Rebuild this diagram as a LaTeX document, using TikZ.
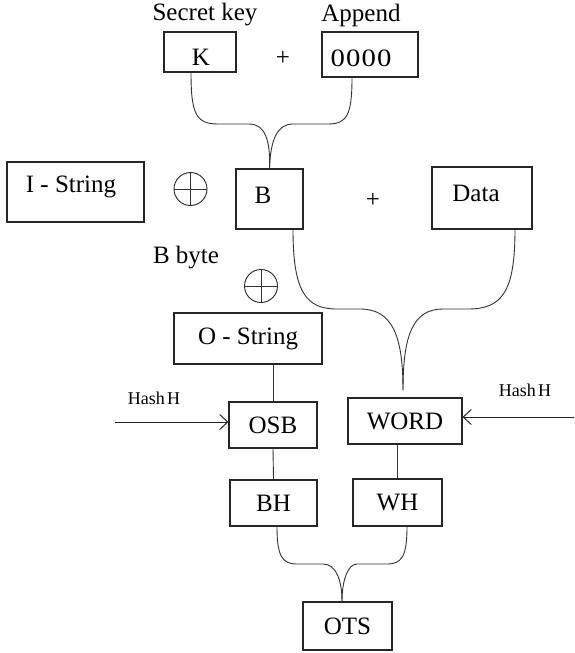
\documentclass[tikz,border=0pt]{standalone}
\usepackage{fontspec}
\setmainfont{Liberation Serif}
\usetikzlibrary{arrows.meta}
\tikzset{
  box/.style={draw=black!85, line width=1.1pt, inner sep=0pt, fill=white},
  txt/.style={inner sep=0pt, font=\fontsize{25}{29}\selectfont},
  small/.style={inner sep=0pt, font=\fontsize{18}{21}\selectfont},
  link/.style={draw=black!80, line width=0.9pt},
  harrow/.style={draw=black!85, line width=1pt, -{Straight Barb[length=8pt,width=15pt,line width=1pt]}},
  xorsym/.style={circle, draw=black!85, line width=0.9pt, minimum size=33pt, inner sep=0pt}
}
\begin{document}
\begin{tikzpicture}[x=1pt,y=-1pt]
\useasboundingbox[fill=white] (0,0) rectangle (574,653);

% top labels
\node[txt] (sk) at (205,15) {Secret key};
\node[txt] (ap) at (361,15) {Append};

% boxes
\node[box, minimum width=72pt, minimum height=40pt] (K) at (200,52) {};
\node[txt] (Kt) at (201,57) {K};
\node[box, minimum width=96pt, minimum height=45pt] (Z) at (370,54.5) {};
\node[txt, xscale=1.15] (Zt) at (361,58) {\addfontfeatures{LetterSpace=4}0000};
\node[txt] (p1) at (283,58) {+};

\node[box, minimum width=137pt, minimum height=60pt] (I) at (75.5,192) {};
\node[txt] (It) at (71,187) {I - String};
\node[xorsym] (x1) at (190.5,189) {};
\draw[link] (x1.north) -- (x1.south) (x1.west) -- (x1.east);

\node[box, minimum width=67pt, minimum height=60pt] (B) at (269.5,199) {};
\node[txt] (Bt) at (263,195) {B};
\node[txt] (p2) at (373,200) {+};
\node[box, minimum width=100pt, minimum height=62pt] (D) at (482,198) {};
\node[txt] (Dt) at (476,193) {Data};

\node[txt] (bb) at (186,258) {B byte};
\node[xorsym] (x2) at (261,286) {};
\draw[link] (x2.north) -- (x2.south) (x2.west) -- (x2.east);

\node[box, txt, minimum width=148pt, minimum height=51pt] (OS) at (248,338.5) {O - String};
\node[box, txt, minimum width=88pt, minimum height=46pt] (OSB) at (273,425) {OSB};
\node[box, txt, minimum width=114pt, minimum height=46pt] (W) at (405,421) {WORD};
\node[box, txt, minimum width=87pt, minimum height=46pt] (BH) at (273.5,503) {BH};
\node[box, txt, minimum width=89pt, minimum height=47pt] (WH) at (397.5,502.5) {WH};
\node[box, txt, minimum width=89pt, minimum height=48pt] (OTS) at (347.5,626) {OTS};

% hash inputs
\node[small] (hlt) at (154,398) {Hash\hspace{0.12em}H};
\coordinate (hl) at (115,422);
\draw[harrow] (hl) -- (hl -| OSB.west);
\node[small] (hrt) at (525,390) {Hash\hspace{0.12em}H};
\coordinate (hr) at (574,417);
\draw[harrow] (hr) -- (hr -| W.east);

% straight links
\draw[link] (OSB.north |- OS.south) -- (OSB.north);
\draw[link] (OSB.south) -- (BH.north);
\draw[link] (WH.north |- W.south) -- (WH.north);

% top merge K + 0000 -> B
\draw[link] ([xshift=-9pt]K.south) .. controls (191,114) and (196,124) .. (218,124)
  -- (249,124) .. controls (265,124) and (270.5,140) .. (B.north);
\draw[link] ([xshift=-18pt]Z.south) .. controls (352,115) and (347,124) .. (328,124)
  -- (293,124) .. controls (277,124) and (270.5,140) .. (B.north);

% merge B + Data -> WORD
\coordinate (m1) at (403,390);
\draw[link] ([xshift=23.5pt]B.south) .. controls (293,292) and (306,309) .. (337,309)
  -- (360,309) .. controls (392,309) and (403,335) .. (m1);
\draw[link] ([xshift=33pt]D.south) .. controls (515,292) and (502,309) .. (468,309)
  -- (443,309) .. controls (413,309) and (403,335) .. (m1);

% merge BH + WH -> OTS
\draw[link] ([xshift=3.5pt]BH.south) .. controls (277,556) and (282,564) .. (297,564)
  -- (323,564) .. controls (336,564) and (342,580) .. ([xshift=-5.5pt]OTS.north);
\draw[link] ([xshift=9.5pt]WH.south) .. controls (407,556) and (402,564) .. (387,564)
  -- (357,564) .. controls (348,564) and (342,580) .. ([xshift=-5.5pt]OTS.north);
\end{tikzpicture}
\end{document}
